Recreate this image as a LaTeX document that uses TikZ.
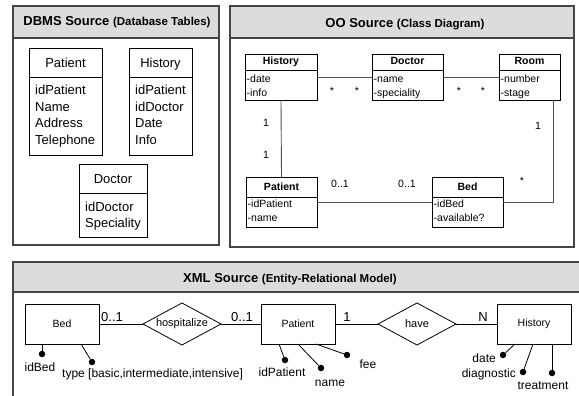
\documentclass[tikz,border=0pt]{standalone}
\usepackage{fontspec}
\setmainfont{Liberation Sans}
\usetikzlibrary{shapes.geometric}
\definecolor{frame}{HTML}{454545}
\definecolor{hdr}{HTML}{DCDCDC}
\definecolor{lne}{HTML}{505050}
\begin{document}
\begin{tikzpicture}[x=1pt,y=-1pt,
  panel/.style={draw=frame,line width=1.2pt},
  hdrfill/.style={fill=hdr,draw=frame,line width=1.2pt},
  tbl/.style={draw=black,line width=0.8pt,inner sep=0pt,outer sep=0pt},
  cls/.style={draw=black,line width=0.8pt,inner sep=0pt,outer sep=0pt},
  conn/.style={draw=lne,line width=0.9pt},
  ent/.style={draw=black,line width=0.8pt,inner sep=0pt,outer sep=0pt,minimum width=74pt,minimum height=40pt,font=\fontsize{10.5}{12}\selectfont},
  rel/.style={diamond,draw=black,line width=0.8pt,inner sep=0pt,outer sep=0pt,minimum width=78pt,minimum height=42pt,aspect=1.86,font=\fontsize{11}{13}\selectfont},
  dtxt/.style={inner sep=0pt,anchor=base west,font=\fontsize{13}{15}\selectfont},
  dhead/.style={inner sep=0pt,anchor=base,font=\fontsize{13}{15}\selectfont},
  ctxt/.style={inner sep=0pt,anchor=base west,font=\fontsize{10.5}{12}\selectfont},
  chead/.style={inner sep=0pt,anchor=base,font=\fontsize{10.5}{12}\selectfont\bfseries},
  mult/.style={inner sep=0pt,anchor=base,font=\fontsize{10.5}{12}\selectfont},
  card/.style={inner sep=0pt,anchor=base,font=\fontsize{13}{15}\selectfont},
  atxt/.style={inner sep=0pt,font=\fontsize{12}{14}\selectfont},
  dot/.style={circle,fill=black,inner sep=0pt,minimum size=6.5pt},
  attl/.style={draw=black,line width=0.8pt}]
\useasboundingbox (0,0) rectangle (579,396);
\fill[white] (0,0) rectangle (579,396);

% ---------------- DBMS panel
\filldraw[hdrfill] (13,6) rectangle (219,38);
\draw[panel] (13,6) rectangle (219,245);
\node[inner sep=0pt,anchor=base] (tdbms) at (117,26) {\fontsize{13}{15}\selectfont\bfseries DBMS Source {\fontsize{11.5}{14}\selectfont(Database Tables)}};

\node[tbl,minimum width=73pt,minimum height=107pt] (tpat) at (65.5,102) {};
\draw[tbl] (tpat.west |- 0,77) -- (tpat.east |- 0,77);
\node[dhead] (tpath) at (65.5,68) {Patient};
\node[dtxt] (tpat1) at (35,95) {idPatient};
\node[dtxt] (tpat2) at (35,111.5) {Name};
\node[dtxt] (tpat3) at (35,128) {Address};
\node[dtxt] (tpat4) at (35,144.5) {Telephone};

\node[tbl,minimum width=63pt,minimum height=107pt] (thist) at (160.5,102) {};
\draw[tbl] (thist.west |- 0,77) -- (thist.east |- 0,77);
\node[dhead] (thisth) at (160.5,68) {History};
\node[dtxt] (thist1) at (135,95) {idPatient};
\node[dtxt] (thist2) at (135,111.5) {idDoctor};
\node[dtxt] (thist3) at (135,128) {Date};
\node[dtxt] (thist4) at (135,144.5) {Info};

\node[tbl,minimum width=68pt,minimum height=73pt] (tdoc) at (113,200.5) {};
\draw[tbl] (tdoc.west |- 0,193) -- (tdoc.east |- 0,193);
\node[dhead] (tdoch) at (113,183) {Doctor};
\node[dtxt] (tdoc1) at (85,211) {idDoctor};
\node[dtxt] (tdoc2) at (85,227.5) {Speciality};

% ---------------- OO panel
\filldraw[hdrfill] (230,6) rectangle (574,38);
\draw[panel] (230,6) rectangle (574,247);
\node[inner sep=0pt,anchor=base] (too) at (405,27.5) {\fontsize{13}{15}\selectfont\bfseries OO Source {\fontsize{11.5}{14}\selectfont(Class Diagram)}};

\node[cls,minimum width=72pt,minimum height=46pt] (chist) at (281,77) {};
\draw[cls] (chist.west |- 0,70) -- (chist.east |- 0,70);
\node[chead] (chisth) at (281,65) {History};
\node[ctxt] (chist1) at (246.5,83) {-date};
\node[ctxt] (chist2) at (246.5,96) {-info};

\node[cls,minimum width=71pt,minimum height=46pt] (cdoc) at (407.5,77) {};
\draw[cls] (cdoc.west |- 0,70) -- (cdoc.east |- 0,70);
\node[chead] (cdoch) at (407.5,65) {Doctor};
\node[ctxt] (cdoc1) at (373.5,83) {-name};
\node[ctxt] (cdoc2) at (373.5,96) {-speciality};

\node[cls,minimum width=61pt,minimum height=46pt] (croom) at (529.5,77) {};
\draw[cls] (croom.west |- 0,70) -- (croom.east |- 0,70);
\node[chead] (croomh) at (529.5,65) {Room};
\node[ctxt] (croom1) at (500.5,83) {-number};
\node[ctxt] (croom2) at (500.5,96) {-stage};

\node[cls,minimum width=71pt,minimum height=50pt] (cpat) at (281.5,202) {};
\draw[cls] (cpat.west |- 0,197) -- (cpat.east |- 0,197);
\node[chead] (cpath) at (281.5,190) {Patient};
\node[ctxt] (cpat1) at (247.5,207) {-idPatient};
\node[ctxt] (cpat2) at (247.5,221) {-name};

\node[cls,minimum width=71pt,minimum height=50pt] (cbed) at (467.5,202) {};
\draw[cls] (cbed.west |- 0,197) -- (cbed.east |- 0,197);
\node[chead] (cbedh) at (467.5,190) {Bed};
\node[ctxt] (cbed1) at (433.5,207) {-idBed};
\node[ctxt] (cbed2) at (433.5,221) {-available?};

\draw[conn] (chist.east) -- (cdoc.west);
\draw[conn] (cdoc.east) -- (croom.west);
\draw[conn] (chist.south) -- (cpat.north);
\draw[conn] (cpat.east) -- (cbed.west);
\draw[conn] (cbed.east) -| ([xshift=-7pt]croom.south east);

\node[mult] (m1) at (332,95) {*};
\node[mult] (m2) at (357,95) {*};
\node[mult] (m3) at (459,95) {*};
\node[mult] (m4) at (483,95) {*};
\node[mult] (m5) at (266,127) {1};
\node[mult] (m6) at (266,158) {1};
\node[mult] (m7) at (538,129) {1};
\node[mult] (m8) at (340,187) {0..1};
\node[mult] (m9) at (407,187) {0..1};
\node[mult] (m10) at (522,184) {*};

% ---------------- XML panel
\begin{scope}
\clip (0,0) rectangle (579,396);
\filldraw[hdrfill] (13,262) rectangle (590,292);
\draw[panel] (590,262) -- (13,262) -- (13,400);
\end{scope}
\node[inner sep=0pt,anchor=base] (txml) at (290,282) {\fontsize{13}{15}\selectfont\bfseries XML Source {\fontsize{11.5}{14}\selectfont(Entity-Relational Model)}};

\node[ent] (ebed) at (62,324) {Bed};
\node[rel] (rhosp) at (182,324) {hospitalize};
\node[ent] (epat) at (298,324) {Patient};
\node[rel] (rhave) at (417,324) {have};
\node[ent] (ehist) at (534,324) {History};

\draw[attl] (ebed.east) -- (rhosp.west);
\draw[attl] (rhosp.east) -- (epat.west);
\draw[attl] (epat.east) -- (rhave.west);
\draw[attl] (rhave.east) -- (ehist.west);

\node[card] (k1) at (112,321.5) {0..1};
\node[card] (k2) at (242,321.5) {0..1};
\node[card] (k3) at (347,321) {1};
\node[card] (k4) at (483,321) {N};

% attributes
\node[dot] (dbed1) at (42,354) {};
\node[dot] (dbed2) at (92,362) {};
\draw[attl] ([xshift=-20pt]ebed.south) -- (dbed1);
\draw[attl] ([xshift=19pt]ebed.south) -- (dbed2);
\node[atxt,anchor=base] (lbed1) at (40,371) {idBed};
\node[atxt,anchor=base west] (lbed2) at (62,377) {type [basic,intermediate,intensive]};

\node[dot] (dpat1) at (285,360) {};
\node[dot] (dpat2) at (321,368) {};
\node[dot] (dpat3) at (347,355) {};
\draw[attl] ([xshift=-19pt]epat.south) -- (dpat1);
\draw[attl] (epat.south) -- (dpat2);
\draw[attl] ([xshift=18pt]epat.south) -- (dpat3);
\node[atxt,anchor=base] (lpat1) at (282,376) {idPatient};
\node[atxt,anchor=base] (lpat2) at (330,386) {name};
\node[atxt,anchor=base] (lpat3) at (368,368) {fee};

\node[dot] (dhis1) at (503,355) {};
\node[dot] (dhis2) at (523,372) {};
\node[dot] (dhis3) at (552,373) {};
\draw[attl] ([xshift=-19pt]ehist.south) -- (dhis1);
\draw[attl] ([xshift=-1pt]ehist.south) -- (dhis2);
\draw[attl] ([xshift=18pt]ehist.south) -- (dhis3);
\node[atxt,anchor=base east] (lhis1) at (496,362) {date};
\node[atxt,anchor=base east] (lhis2) at (516,377) {diagnostic};
\node[atxt,anchor=base] (lhis3) at (543,389) {treatment};
\end{tikzpicture}
\end{document}
